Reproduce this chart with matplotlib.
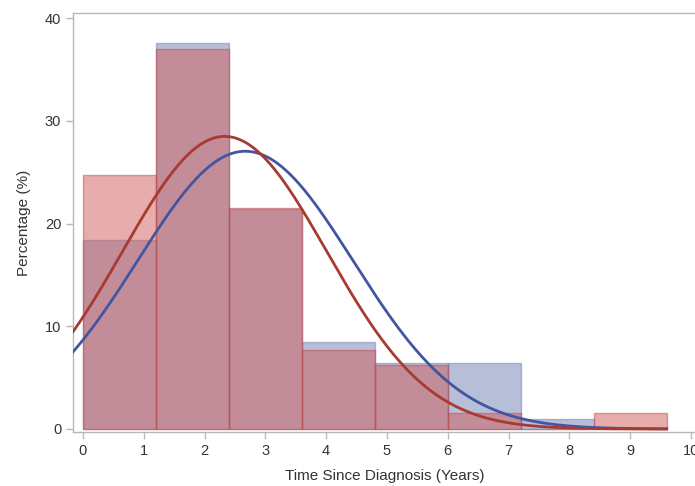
import numpy as np
import matplotlib
matplotlib.use("Agg")
import matplotlib.pyplot as plt

# histogram bins (years) and percentage per bin for the two groups
bin_edges = [0.0, 1.2, 2.4, 3.6, 4.8, 6.0, 7.2, 8.4, 9.6]
blue_pct = [18.4, 37.6, 21.4, 8.5, 6.4, 6.4, 1.0, 0.0]
red_pct = [24.7, 37.0, 21.5, 7.7, 6.2, 1.6, 0.0, 1.55]

# fitted normal curves (mean, sd)
blue_mean, blue_sd = 2.67, 1.77
red_mean, red_sd = 2.33, 1.68

x_ticks = [0, 1, 2, 3, 4, 5, 6, 7, 8, 9, 10]
y_ticks = [0, 10, 20, 30, 40]

BLUE_FILL = "#6F7EB3"
RED_FILL = "#D05B5B"
BLUE_LINE = "#4455A0"
RED_LINE = "#A83A30"
GRID_GRAY = "#B8B8B8"
TEXT = "#333333"

fam = ["Liberation Sans Narrow", "Liberation Sans", "DejaVu Sans"]
plt.rcParams["font.family"] = fam

fig = plt.figure(figsize=(6.95, 4.86), dpi=100)
ax = fig.add_axes([0.105, 0.111, 0.898, 0.862])

edges = np.array(bin_edges)
widths = np.diff(edges)
ax.bar(edges[:-1], blue_pct, width=widths, align="edge",
       color=BLUE_FILL, alpha=0.5, edgecolor=BLUE_FILL, linewidth=1.0, zorder=2)
ax.bar(edges[:-1], red_pct, width=widths, align="edge",
       color=RED_FILL, alpha=0.5, edgecolor="#C04848", linewidth=1.0, zorder=3)

xs = np.linspace(-0.164, 9.6, 400)
binw = widths[0]


def normal_pct(x, mu, sd):
    return 100 * binw * np.exp(-0.5 * ((x - mu) / sd) ** 2) / (sd * np.sqrt(2 * np.pi))


ax.plot(xs, normal_pct(xs, blue_mean, blue_sd), color=BLUE_LINE, lw=2.0, zorder=4)
ax.plot(xs, normal_pct(xs, red_mean, red_sd), color=RED_LINE, lw=2.0, zorder=5)

ax.set_xlim(-0.164, 10.1)
ax.set_ylim(-0.3, 40.5)
ax.set_xticks(x_ticks)
ax.set_yticks(y_ticks)

for side in ["left", "bottom", "top", "right"]:
    ax.spines[side].set_color(GRID_GRAY)
    ax.spines[side].set_linewidth(1.0)
ax.tick_params(axis="both", colors=GRID_GRAY, labelcolor=TEXT, labelsize=10.5,
               length=5, width=1.0)

ax.set_xlabel("Time Since Diagnosis (Years)", fontsize=11, color=TEXT,
              family=["Liberation Sans", "DejaVu Sans"], labelpad=8)
ax.set_ylabel("Percentage (%)", fontsize=11, color=TEXT,
              family=["Liberation Sans", "DejaVu Sans"], labelpad=10)

fig.savefig("out.png", dpi=100)
